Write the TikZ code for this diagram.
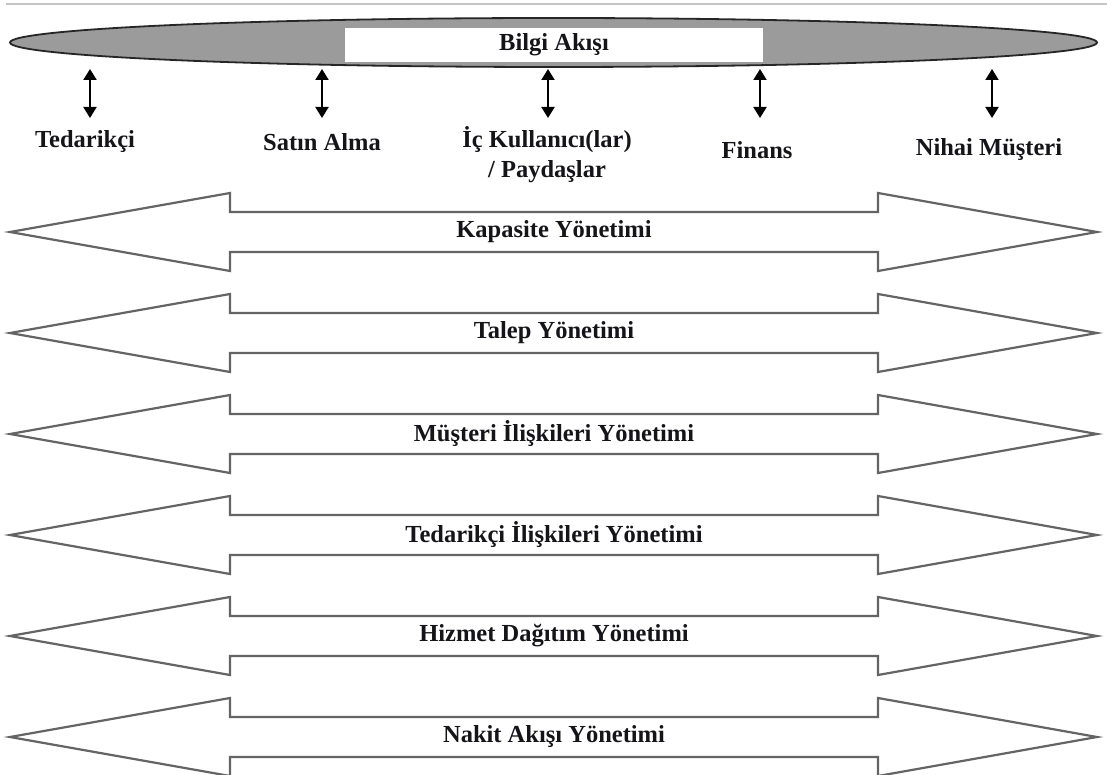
\documentclass[tikz,border=0pt]{standalone}
\usepackage{fontspec}
\setmainfont{Liberation Serif}
\usetikzlibrary{arrows.meta,shapes.geometric}
\definecolor{ellgray}{RGB}{155,155,155}
\definecolor{arrline}{RGB}{100,100,100}
\definecolor{txt}{RGB}{20,20,25}
\tikzset{
  lbl/.style={font=\bfseries\fontsize{24.5}{30}\selectfont, text=txt, inner sep=0pt, align=center},
  bigarrow/.style={draw=arrline, line width=2.2pt, fill=white, line join=miter},
  updown/.style={black, line width=2pt, {Triangle[width=13pt,length=11pt]}-{Triangle[width=13pt,length=11pt]}},
}
\begin{document}
\begin{tikzpicture}[x=1pt,y=-1pt]
\useasboundingbox (0,0) rectangle (1107,775);
% top border line
\coordinate (tl) at (6,4);
\coordinate (tr) at (1107,4);
\draw[gray!45, line width=1.5pt] (tl) -- (tr);
% information flow ellipse
\node[ellipse, draw=black!85, line width=1.8pt, fill=ellgray, minimum width=1087pt, minimum height=49pt, inner sep=0pt] (info) at (553.5,42.5) {};
\node[lbl, fill=white, minimum width=418pt, minimum height=34pt] (bilgi) at (554,45) {Bilgi Akışı};
% small double arrows
\foreach \i/\x in {1/90, 2/322, 3/548, 4/760, 5/992} {
  \coordinate (t\i) at (\x,69);
  \coordinate (b\i) at (\x,118);
  \draw[updown] (t\i) -- (b\i);
}
% party labels
\node[lbl] (ted) at (85,142) {Tedarikçi};
\node[lbl] (sat) at (322,142) {Satın Alma};
\node[lbl] (ic) at (547,155) {İç Kullanıcı(lar)\\ / Paydaşlar};
\node[lbl] (fin) at (757,150) {Finans};
\node[lbl] (nih) at (989,150) {Nihai Müşteri};
% big double arrows
\foreach \i/\c/\t in {1/232/Kapasite Yönetimi, 2/333/Talep Yönetimi, 3/434/Müşteri İlişkileri Yönetimi, 4/535/Tedarikçi İlişkileri Yönetimi, 5/636/Hizmet Dağıtım Yönetimi, 6/737/Nakit Akışı Yönetimi} {
  \draw[bigarrow] (10,\c) -- (230,\c-39) -- (230,\c-20) -- (878,\c-20) -- (878,\c-39) -- (1097,\c) -- (878,\c+39) -- (878,\c+20) -- (230,\c+20) -- (230,\c+39) -- cycle;
  \node[lbl] (m\i) at (554,\c) {\t};
}
\end{tikzpicture}
\end{document}
